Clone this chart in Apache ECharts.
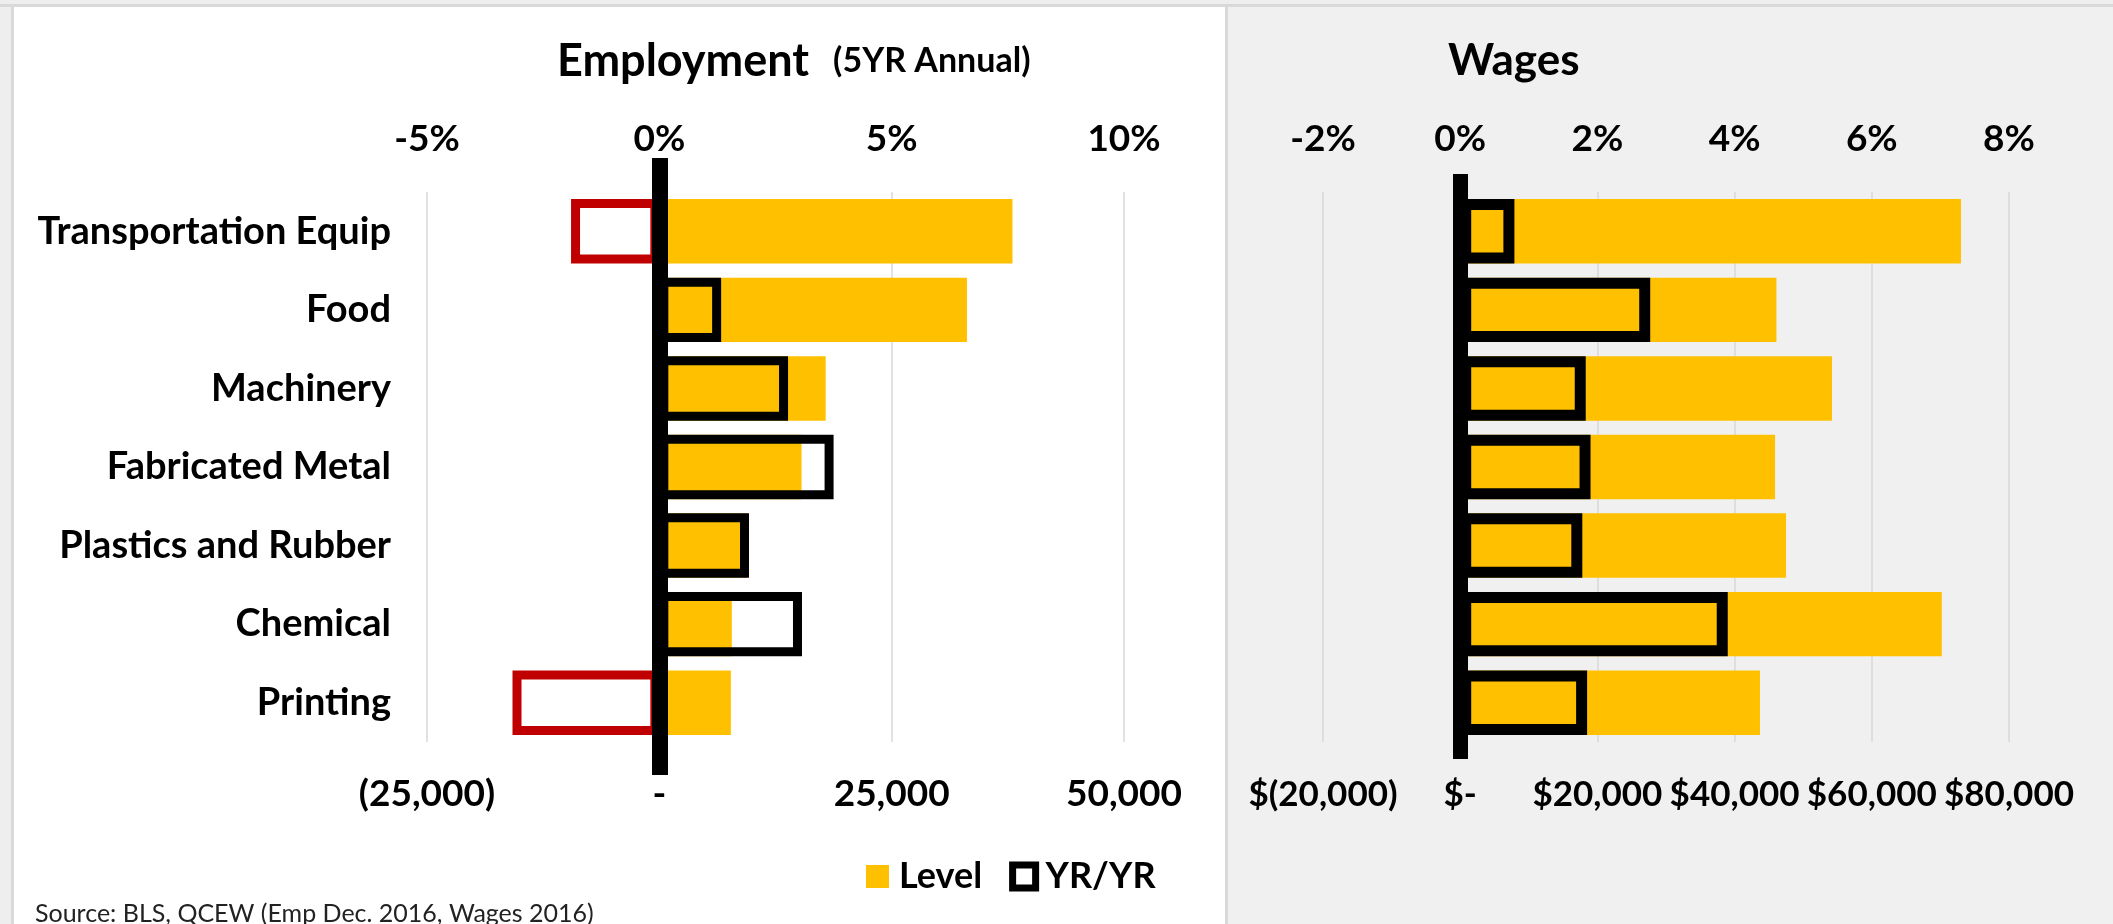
<!DOCTYPE html>
<html>
<head>
<meta charset="utf-8">
<script src="https://cdn.jsdelivr.net/npm/echarts@6/dist/echarts.min.js"></script>
<style>
  html, body { margin: 0; padding: 0; background: #eeeeee; }
  #chart { width: 2113px; height: 924px; }
</style>
</head>
<body>
<div id="chart"></div>
<script>
const FONT = "Lato, 'Open Sans', sans-serif";
const GOLD = "#FFC000";
const RED = "#C00000";

const categories = [
  "Transportation Equip",
  "Food",
  "Machinery",
  "Fabricated Metal",
  "Plastics and Rubber",
  "Chemical",
  "Printing",
];

// employment: change in jobs (bottom axis) and YR/YR % (top axis)
const empLevel = [38000, 33100, 17900, 15300, 9400, 7800, 7700];
const empYoY = [-1.9, 1.33, 2.77, 3.75, 1.93, 3.07, -3.16];

// wages: level in $ (bottom axis) and YR/YR % (top axis)
const wageLevel = [73000, 46100, 54200, 45900, 47500, 70200, 43700];
const wageYoY = [0.79, 2.77, 1.83, 1.9, 1.78, 3.9, 1.85];

const empCountTicks = { min: -25000, max: 50000, interval: 25000 };
const empPctTicks = { min: -5, max: 10, interval: 5 };
const wageDollarTicks = { min: -20000, max: 80000, interval: 20000 };
const wagePctTicks = { min: -2, max: 8, interval: 2 };

const chart = echarts.init(document.getElementById("chart"));

function fmtNum(v) {
  return new Intl.NumberFormat("en-US").format(v);
}
function fmtCount(v) {
  if (v === 0) return "-";
  return v < 0 ? `(${fmtNum(-v)})` : fmtNum(v);
}
function fmtDollar(v) {
  if (v === 0) return "$-";
  return v < 0 ? `$(${fmtNum(-v)})` : `$${fmtNum(v)}`;
}
function fmtPct(v) {
  return `${v}%`;
}

const labelStyle = {
  color: "#000",
  fontFamily: FONT,
  fontWeight: "bold",
  fontSize: 37,
  lineHeight: 37,
};

function valueAxis(gridIndex, ticks, position, formatter, withGrid, fontSize) {
  return {
    gridIndex,
    type: "value",
    position,
    min: ticks.min,
    max: ticks.max,
    interval: ticks.interval,
    axisLine: { show: false },
    axisTick: { show: false },
    axisLabel: {
      ...labelStyle,
      fontSize: fontSize || labelStyle.fontSize,
      margin: 34,
      formatter,
      showMinLabel: true,
      showMaxLabel: true,
      hideOverlap: false,
    },
    splitLine: { show: withGrid, lineStyle: { color: "#d9d9d9", width: 1.5 } },
  };
}

function hiddenValueAxis(gridIndex, ticks) {
  return {
    gridIndex,
    type: "value",
    min: ticks.min,
    max: ticks.max,
    axisLine: { show: false },
    axisTick: { show: false },
    axisLabel: { show: false },
    splitLine: { show: false },
  };
}

function zeroLineAxis(gridIndex, width) {
  return {
    gridIndex,
    type: "value",
    min: 0,
    max: 1,
    z: 10,
    axisLine: { show: true, onZero: true, lineStyle: { color: "#000", width, cap: "butt" } },
    axisTick: { show: false },
    axisLabel: { show: false },
    splitLine: { show: false },
  };
}

function categoryAxis(gridIndex, showLabels) {
  return {
    gridIndex,
    type: "category",
    inverse: true,
    data: categories,
    axisLine: { show: false },
    axisTick: { show: false },
    axisLabel: { show: showLabels, ...labelStyle, fontSize: 38, margin: 36 },
    splitLine: { show: false },
  };
}

function levelSeries(name, xIdx, yIdx, data) {
  return {
    name,
    type: "bar",
    xAxisIndex: xIdx,
    yAxisIndex: yIdx,
    barWidth: "82%",
    barGap: "-100%",
    itemStyle: { color: GOLD },
    emphasis: { disabled: true },
    data,
  };
}

function yoySeries(name, xIdx, yIdx, data, borderWidth) {
  return {
    name,
    type: "bar",
    xAxisIndex: xIdx,
    yAxisIndex: yIdx,
    barWidth: "82%",
    barGap: "-100%",
    itemStyle: { color: "rgba(0,0,0,0)", borderColor: "#000", borderWidth },
    emphasis: { disabled: true },
    data: data.map((v) => ({
      value: v,
      itemStyle: { borderColor: v < 0 ? RED : "#000" },
    })),
  };
}

const option = {
  animation: false,
  backgroundColor: "#eeeeee",
  graphic: [
    { type: "rect", z: -5, shape: { x: 0, y: 4, width: 2113, height: 3 }, style: { fill: "#d9d9d9" } },
    { type: "rect", z: -5, shape: { x: 11, y: 4, width: 1217, height: 920 }, style: { fill: "#d9d9d9" } },
    { type: "rect", z: -4, shape: { x: 14, y: 7, width: 1211, height: 917 }, style: { fill: "#ffffff" } },
    { type: "rect", z: -4, shape: { x: 1228, y: 7, width: 885, height: 917 }, style: { fill: "#f0f0f0" } },
  ],
  title: [
    {
      left: 557,
      top: 36,
      padding: 0,
      text: "{a|Employment}{b|(5YR Annual)}",
      textStyle: {
        rich: {
          a: { fontFamily: FONT, fontWeight: "bold", fontSize: 45, color: "#000", lineHeight: 50, padding: [0, 24, 0, 0] },
          b: { fontFamily: FONT, fontWeight: "bold", fontSize: 34, color: "#000", lineHeight: 50 },
        },
      },
    },
    {
      left: 1448,
      top: 36,
      padding: 0,
      text: "Wages",
      textStyle: { fontFamily: FONT, fontWeight: "bold", fontSize: 44, color: "#000", lineHeight: 50 },
    },
    {
      left: 35,
      top: 899,
      padding: 0,
      text: "Source: BLS, QCEW (Emp Dec. 2016, Wages 2016)",
      textStyle: { fontFamily: FONT, fontWeight: "normal", fontSize: 25, color: "#222", lineHeight: 30 },
    },
  ],
  legend: {
    left: 866,
    top: 858,
    padding: 0,
    itemWidth: 23,
    itemHeight: 23,
    itemGap: 27,
    icon: "rect",
    selectedMode: false,
    textStyle: { ...labelStyle, fontSize: 36, padding: [0, 0, 0, 5] },
    data: [
      { name: "Level", itemStyle: { color: GOLD } },
      { name: "YR/YR", itemStyle: { color: "#fff", borderColor: "#000", borderWidth: 7 } },
    ],
  },
  grid: [
    { left: 427, width: 697, top: 192, height: 550, outerBoundsMode: "none" },
    { left: 427, width: 697, top: 158, height: 617, outerBoundsMode: "none" },
    { left: 1323, width: 686, top: 192, height: 550, outerBoundsMode: "none" },
    { left: 1323, width: 686, top: 174, height: 585, outerBoundsMode: "none" },
  ],
  xAxis: [
    valueAxis(0, empCountTicks, "bottom", fmtCount, true),
    valueAxis(0, empPctTicks, "top", fmtPct, false),
    hiddenValueAxis(1, empCountTicks),
    valueAxis(2, wageDollarTicks, "bottom", fmtDollar, true, 35),
    valueAxis(2, wagePctTicks, "top", fmtPct, false),
    hiddenValueAxis(3, wageDollarTicks),
  ],
  yAxis: [
    categoryAxis(0, true),
    zeroLineAxis(1, 16),
    categoryAxis(2, false),
    zeroLineAxis(3, 15),
  ],
  series: [
    levelSeries("Level", 0, 0, empLevel),
    yoySeries("YR/YR", 1, 0, empYoY, 9),
    levelSeries("Level", 3, 2, wageLevel),
    yoySeries("YR/YR", 4, 2, wageYoY, 11),
  ],
};

chart.setOption(option);
window.addEventListener("resize", () => chart.resize());
</script>
</body>
</html>
